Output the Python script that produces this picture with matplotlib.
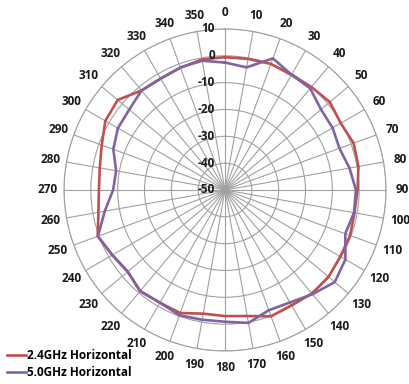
import numpy as np
import matplotlib
matplotlib.use('Agg')
from matplotlib import pyplot as plt

plt.rcParams['font.family'] = ['Open Sans', 'DejaVu Sans']
plt.rcParams['font.weight'] = 'bold'

# angulos (grados) y ganancia (dB)
angulos = list(range(0, 360, 10))
ganancia_24 = [-0.5, -0.4, 0.0, -0.5, 0.1, 1.0, -0.2, 1.0, 0.5, -0.6,
               -1.0, -0.4, -0.4, 0.4, 0.4, -0.4, 0.1, -2.3, -3.0, -3.2,
               -1.2, -1.5, -0.8, -2.7, -1.5, 0.5, -2.1, -3.0, -2.6, -1.1,
               1.5, 2.2, -1.6, -2.0, -1.5, -0.6]
ganancia_50 = [-2.5, -3.6, 2.2, -0.4, -0.6, -3.3, -3.7, -4.6, -2.9, -1.2,
               -1.2, -2.3, 1.8, 3.4, 0.7, -1.6, -2.3, 0.3, -0.9, -0.9,
               -0.3, -1.5, -0.8, -2.6, -1.5, 0.4, -4.5, -8.3, -8.8, -5.7,
               -3.9, -3.4, -1.6, -2.1, -1.4, -1.1]
niveles = [-50, -40, -30, -20, -10, 0, 10]

fig = plt.figure(figsize=(4.10, 3.84), dpi=100)
ax = fig.add_axes([0.1561, 0.086, 0.7854, 0.8385], projection='polar')
ax.set_theta_zero_location('N')
ax.set_theta_direction(-1)
ax.set_ylim(-50, 10)

gris = '#a0a0a0'
ax.set_thetagrids(angulos, [str(a) for a in angulos], fontsize=8.5,
                  fontweight='bold', color='#1a1a1a')
ax.set_rgrids(niveles[1:], labels=[''] * (len(niveles) - 1))
ax.grid(True, color=gris, linewidth=0.8)
ax.spines['polar'].set_color(gris)
ax.spines['polar'].set_linewidth(0.8)
ax.tick_params(axis='x', pad=1.5)

for n in niveles:
    ax.annotate(str(n), xy=(0, n), xytext=(-10, 0), textcoords='offset pixels',
                ha='right', va='center', fontsize=8.5, fontweight='bold',
                color='#1a1a1a')

th = np.deg2rad(angulos + [angulos[0]])
ax.plot(th, ganancia_24 + [ganancia_24[0]], color='#c0504d', lw=1.9,
        label='2.4GHz Horizontal')
ax.plot(th, ganancia_50 + [ganancia_50[0]], color='#8064a2', lw=1.9,
        label='5.0GHz Horizontal')

fig.legend(loc='lower left', bbox_to_anchor=(0.0, -0.005), frameon=False,
           prop={'size': 8.5, 'weight': 'bold'}, handlelength=1.6,
           handletextpad=0.1, labelspacing=0.35, borderaxespad=0.2)

fig.savefig('out.png', dpi=100)
